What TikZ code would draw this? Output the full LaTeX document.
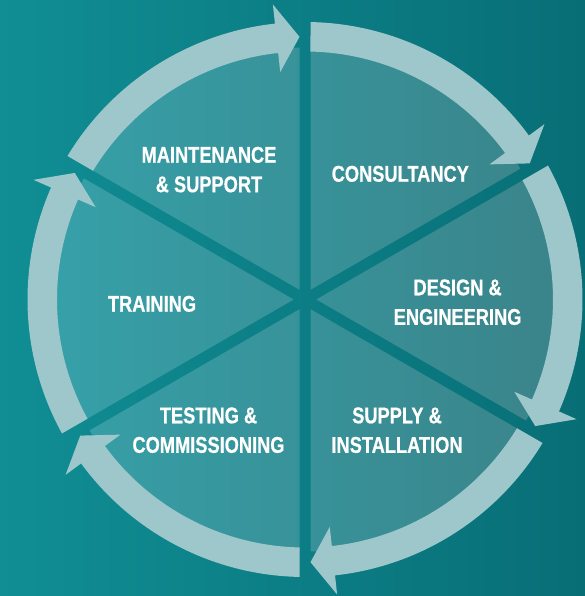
\documentclass[tikz,border=0pt]{standalone}
\usepackage{fontspec}
\usetikzlibrary{calc}
\newfontfamily\lblfont{Liberation Sans}[FakeStretch=0.80,FakeBold=0.6]
\definecolor{bgL}{RGB}{16,142,148}
\definecolor{bgR}{RGB}{8,110,118}
\definecolor{diskL}{RGB}{54,160,168}
\definecolor{diskR}{RGB}{58,132,138}
\definecolor{ringcol}{RGB}{157,199,203}
\begin{document}
\begin{tikzpicture}[x=1pt,y=1pt,
  lbl/.style={text=white, font=\lblfont\bfseries\fontsize{22.8}{29.5}\selectfont, align=center, anchor=base, inner sep=0pt},
  cyclearrow/.style={fill=ringcol}]
\useasboundingbox (-305,-296.5) rectangle (280,299.5);
\shade[left color=bgL, right color=bgR] (-305,-296.5) rectangle (280,299.5);
\shade[left color=diskL, right color=diskR] (0,0) circle[radius=252pt];
\begin{scope}
\clip ($(90:300)+(180:5.5)$) -- ($(90:300)+(0:5.5)$) -- ($(270:300)+(0:5.5)$) -- ($(270:300)+(180:5.5)$) -- cycle
      ($(30:300)+(120:5.5)$) -- ($(30:300)+(-60:5.5)$) -- ($(210:300)+(-60:5.5)$) -- ($(210:300)+(120:5.5)$) -- cycle
      ($(150:300)+(240:5.5)$) -- ($(150:300)+(60:5.5)$) -- ($(330:300)+(60:5.5)$) -- ($(330:300)+(240:5.5)$) -- cycle;
\shade[left color=bgL, right color=bgR] (-305,-296.5) rectangle (280,299.5);
\end{scope}
\foreach \a in {150,90,30,-30,-90,-150}{
  \fill[cyclearrow] ({\a-1.136}:277.5) arc[start angle={\a-1.136}, end angle={\a-53.786}, radius=277.5pt]
    -- ({\a-53.786}:296.75) -- ({\a-58.801}:262.75) -- ({\a-53.786}:228.75) -- ({\a-53.786}:248)
    arc[start angle={\a-53.786}, end angle={\a-1.271}, radius=248pt] -- cycle;
}
\node[lbl] (maint) at (-96,107.3) {MAINTENANCE\\\& SUPPORT};
\node[lbl] (consult) at (95.3,117.8) {CONSULTANCY};
\node[lbl] (design) at (152.6,-25.3) {DESIGN \&\\ENGINEERING};
\node[lbl] (train) at (-153,-12.2) {TRAINING};
\node[lbl] (test) at (-96.5,-153.3) {TESTING \&\\COMMISSIONING};
\node[lbl] (supply) at (92,-153.3) {SUPPLY \&\\INSTALLATION};
\end{tikzpicture}
\end{document}
